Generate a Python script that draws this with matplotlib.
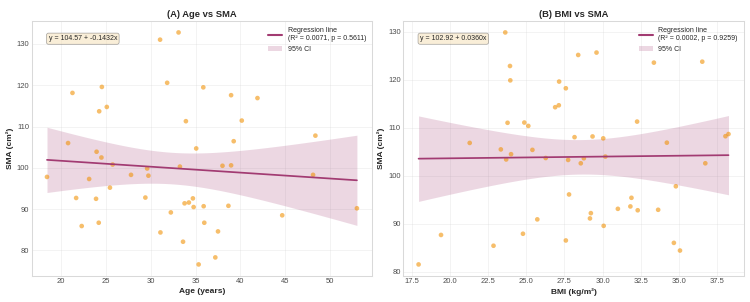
import numpy as np
import matplotlib
matplotlib.use("Agg")
import matplotlib.pyplot as plt
from matplotlib.patches import Patch
from matplotlib.lines import Line2D

# (A) age vs SMA
age = [31.04, 33.1, 21.27, 24.55, 31.83, 35.86, 24.25, 25.1, 38.96, 41.9,
       33.92, 40.15, 48.36, 20.78, 39.25, 35.07, 23.96, 24.5, 25.75, 18.43,
       23.13, 27.8, 29.6, 29.74, 33.25, 38.0, 38.96, 48.1, 25.45, 21.68,
       23.9, 29.4, 33.77, 34.25, 34.7, 34.78, 35.9, 38.66, 52.99, 32.24,
       44.66, 22.3, 24.2, 31.08, 35.97, 37.5, 33.6, 37.2, 35.34]
sma_age = [131.05, 132.8, 118.15, 119.6, 120.6, 119.5, 113.7, 114.75, 117.6, 116.9,
           111.3, 111.45, 107.8, 106.0, 106.45, 104.7, 103.9, 102.5, 100.8, 97.8,
           97.3, 98.3, 99.84, 98.1, 100.3, 100.5, 100.6, 98.3, 95.2, 92.7,
           92.5, 92.8, 91.4, 91.6, 92.6, 90.5, 90.7, 90.8, 90.2, 89.2,
           88.5, 85.9, 86.7, 84.35, 86.7, 84.6, 82.1, 78.3, 76.6]

# (B) BMI vs SMA
bmi = [23.62, 23.93, 23.95, 23.77, 24.87, 25.13, 28.4, 29.6, 27.15, 27.59,
       26.89, 27.13, 32.26, 33.36, 36.53, 21.29, 28.16, 29.34, 30.04, 34.21,
       38.05, 38.25, 23.33, 25.4, 23.68, 24.0, 26.27, 27.74, 28.57, 28.77,
       30.18, 36.73, 34.8, 27.8, 31.89, 31.82, 31.0, 32.3, 33.64, 29.23,
       29.17, 25.72, 30.07, 19.41, 24.78, 27.59, 22.85, 34.67, 35.07, 17.94]
sma_bmi = [129.9, 122.9, 119.9, 111.05, 111.1, 110.4, 125.2, 125.7, 119.65, 118.25,
           114.3, 114.7, 111.3, 123.6, 123.8, 106.85, 108.05, 108.2, 107.8, 106.9,
           108.25, 108.7, 105.5, 105.4, 103.4, 104.5, 103.7, 103.3, 102.6, 103.65,
           104.0, 102.6, 97.8, 96.1, 95.4, 93.6, 93.1, 92.8, 92.9, 92.2,
           91.1, 90.9, 89.55, 87.65, 87.9, 86.5, 85.4, 86.0, 84.4, 81.5]

# regression results as printed on the chart
fits = [
    dict(title="(A) Age vs SMA", xlabel="Age (years)", intercept=104.57, slope=-0.1432,
         eq="y = 104.57 + -0.1432x", stats="(R² = 0.0071, p = 0.5611)"),
    dict(title="(B) BMI vs SMA", xlabel="BMI (kg/m²)", intercept=102.92, slope=0.0360,
         eq="y = 102.92 + 0.0360x", stats="(R² = 0.0002, p = 0.9259)"),
]

plt.style.use("seaborn-v0_8-whitegrid")
fig, axes = plt.subplots(1, 2, figsize=(15, 6.04), dpi=50)
fig.subplots_adjust(left=0.042, right=0.992, top=0.931, bottom=0.086, wspace=0.09)

line_col = "#A23B72"
pt_col = "#F18F01"
T975 = 2.01

for ax, (xs, ys), f in zip(axes, [(age, sma_age), (bmi, sma_bmi)], fits):
    x = np.array(xs)
    y = np.array(ys)
    ax.scatter(x, y, s=45, color=pt_col, alpha=0.58, edgecolors="none", zorder=3)

    xx = np.linspace(x.min(), x.max(), 100)
    yy = f["intercept"] + f["slope"] * xx
    resid = y - (f["intercept"] + f["slope"] * x)
    s = np.sqrt(np.sum(resid ** 2) / (len(x) - 2))
    se = s * np.sqrt(1 / len(x) + (xx - x.mean()) ** 2 / np.sum((x - x.mean()) ** 2))
    ax.fill_between(xx, yy - T975 * se, yy + T975 * se, color=line_col, alpha=0.2, lw=0)
    ax.plot(xx, yy, color=line_col, lw=2.5, zorder=4)

    ax.text(0.05, 0.93, f["eq"], transform=ax.transAxes, fontsize=10, va="center",
            bbox=dict(boxstyle="round,pad=0.3", facecolor="wheat", alpha=0.5, edgecolor="0.3"))
    handles = [Line2D([0], [0], color=line_col, lw=3),
               Patch(facecolor=line_col, alpha=0.2)]
    ax.legend(handles, ["Regression line\n" + f["stats"], "95% CI"], loc="upper right",
              fontsize=10, frameon=False)

    ax.set_title(f["title"], fontsize=13.5, fontweight="bold")
    ax.set_xlabel(f["xlabel"], fontsize=12, fontweight="bold")
    ax.set_ylabel("SMA (cm²)", fontsize=12, fontweight="bold")
    ax.tick_params(labelsize=11, colors="0.3")
    ax.grid(True, alpha=0.4)
    for sp in ax.spines.values():
        sp.set_edgecolor("0.85")
        sp.set_linewidth(1.5)

axes[0].set_xticks([20, 25, 30, 35, 40, 45, 50])
axes[1].set_xticks([17.5, 20, 22.5, 25, 27.5, 30, 32.5, 35, 37.5])

fig.savefig("out.png", dpi=50)
